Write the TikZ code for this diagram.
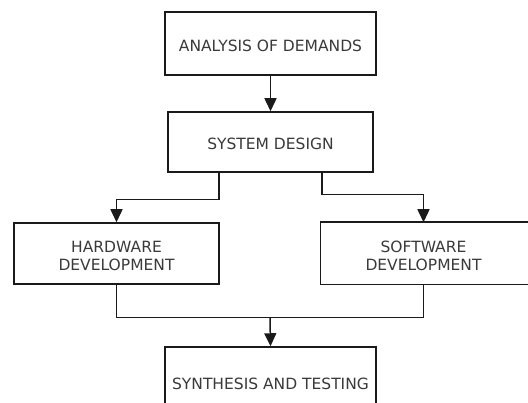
\documentclass[tikz,border=0pt]{standalone}
\usepackage{fontspec}
\setmainfont{DejaVu Sans}
\usetikzlibrary{arrows.meta,calc}
\definecolor{txt}{HTML}{3A3A3A}
\definecolor{ln}{HTML}{1A1A1A}
\newcommand{\toppad}{\rule{0pt}{15.9pt}}
\begin{document}
\begin{tikzpicture}[x=1pt,y=-1pt,
  box/.style={draw=ln, line width=1.5pt, fill=white, text=txt, align=center,
    inner sep=0pt, font=\fontsize{15.5}{17.7}\selectfont},
  onebox/.style={box, text height=16pt, text depth=0pt},
  openbox/.style={box, draw=none, fill=none},
  link/.style={draw=ln, line width=1.5pt},
  arr/.style={link, -{Triangle[length=13pt,width=12pt]}}]
\useasboundingbox (0,0) rectangle (528,403);
\clip (0,0) rectangle (528,403);
\node[onebox, minimum width=211pt, minimum height=63pt] (A) at (270.5,43.5) {ANALYSIS OF DEMANDS};
\node[onebox, minimum width=205pt, minimum height=60pt] (B) at (270.5,142) {SYSTEM DESIGN};
\node[box, minimum width=205pt, minimum height=61pt] (C) at (116.5,253.5) {\toppad HARDWARE\\DEVELOPMENT};
\node[openbox, minimum width=205pt, minimum height=61pt] (D) at (423.5,253.5) {\toppad SOFTWARE\\DEVELOPMENT};
\node[onebox, minimum width=211pt, minimum height=69pt] (E) at (270.5,381.5) {SYNTHESIS AND TESTING};
\draw[link] ($(D.north east)+(20,0)$) -- (D.north west) -- (D.south west) -- ($(D.south east)+(20,0)$);
\coordinate (bl) at ($(B.south west)!0.5!(B.south)$);
\coordinate (br) at ($(B.south east)!0.5!(B.south)$);
\draw[arr] (A) -- (B);
\draw[arr] (bl) -- ++(0,27) -| (C.north);
\draw[arr] (br) -- ++(0,22) -| (D.north);
\draw[link] (C.south) -- ++(0,33) -| (D.south);
\coordinate (m) at ($($(C.south)!0.5!(D.south)$)+(0,33)$);
\draw[arr] (m) -- (E.north);
\end{tikzpicture}
\end{document}
